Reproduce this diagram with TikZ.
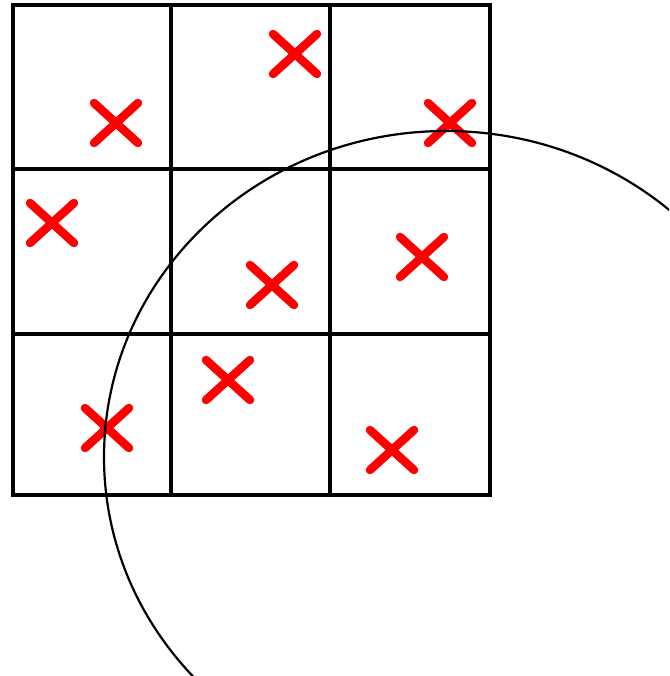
\documentclass[tikz,border=0pt]{standalone}
\begin{document}
\begin{tikzpicture}[x=1pt,y=-1pt,
  gridline/.style={black,line width=3.2pt},
  hline/.style={black,line width=4pt},
  cross/.style={red,line width=8.5pt,line cap=round},
  ring/.style={black,line width=2.2pt}]
\useasboundingbox (0,0) rectangle (669,676);
% crosses
\foreach \cx/\cy in {116/123, 295/54, 450/123, 52/223, 272/285, 422/257, 228/380, 107/428, 392/450}{
  \draw[cross] (\cx-22,\cy-20) -- (\cx+22,\cy+20);
  \draw[cross] (\cx-22,\cy+20) -- (\cx+22,\cy-20);
}
% grid
\draw[gridline] (171,5) -- (171,495);
\draw[gridline] (330,5) -- (330,495);
\draw[hline] (13,169.5) -- (490,169.5);
\draw[hline] (13,334) -- (490,334);
\draw[gridline,line width=3.6pt] (13,5) rectangle (490,495);
% circle
\begin{scope}
\clip (0,0) rectangle (669,676);
\draw[ring] (446,457) ellipse [x radius=342, y radius=326];
\end{scope}
\end{tikzpicture}
\end{document}
